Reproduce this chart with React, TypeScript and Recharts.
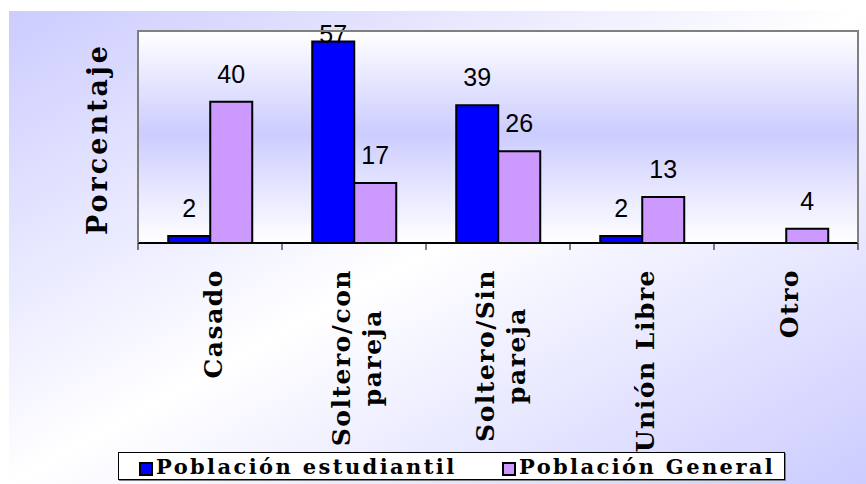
import React, { useLayoutEffect, useRef, useState } from 'react';
import { BarChart, Bar, XAxis, YAxis, CartesianGrid, Legend, LabelList } from 'recharts';

// data
const categories = ['Casado', 'Soltero/con\npareja', 'Soltero/Sin\npareja', 'Unión Libre', 'Otro'];
const estudiantil = [2, 57, 39, 2, 0];
const general = [40, 17, 26, 13, 4];
const seriesNames = ['Población estudiantil', 'Población General'];
const yDomain = [0, 60];
const yTitle = 'Porcentaje';

const data = categories.map((name, i) => ({
  name,
  estudiantil: estudiantil[i],
  general: general[i]
}));

// layout / styles
const CHART_W = 857;
const CHART_H = 473;
const MARGIN = { top: 20, right: 8, bottom: 0, left: 0 };
const Y_AXIS_W = 129;
const PLOT_H = 212;
const PLOT_W = CHART_W - MARGIN.left - MARGIN.right - Y_AXIS_W;
const BAND_HALF = PLOT_W / categories.length / 2;

const LABEL_FONT = '"DejaVu Serif", serif';
const VALUE_FONT = '"Liberation Sans", Arial, sans-serif';

const colors = {
  estudiantil: '#0000FF',
  general: '#CC99FF',
  border: '#808080',
  axis: '#000000'
};

// value label above each bar, kept inside the plot at the top
const ValueLabel = (props: any) => {
  const vb = props.viewBox ?? props;
  const { value } = props;
  if (!value) return null;
  const cx = vb.x + vb.width / 2;
  const baseline = Math.max(vb.y - 19, MARGIN.top + 12);
  return (
    <text x={cx} y={baseline} textAnchor="middle" fontFamily={VALUE_FONT} fontSize={25} fill="#000">
      {value}
    </text>
  );
};

// rotated, centred multi-line category label + boundary tick marks
const CategoryTick = (props: any) => {
  const { x, y, payload, index } = props;
  const lines = String(payload?.value ?? '').split('\n');
  const refs = useRef<(SVGTextElement | null)[]>([]);
  const [len, setLen] = useState(0);

  useLayoutEffect(() => {
    let m = 0;
    refs.current.forEach((el) => {
      if (el) m = Math.max(m, el.getComputedTextLength());
    });
    if (m !== len) setLen(m);
  });

  const cy = y + 26 + len / 2;
  const n = lines.length;

  return (
    <g>
      <line x1={x - BAND_HALF} x2={x - BAND_HALF} y1={y} y2={y + 7} stroke={colors.axis} />
      {index === categories.length - 1 && (
        <line x1={x + BAND_HALF} x2={x + BAND_HALF} y1={y} y2={y + 7} stroke={colors.axis} />
      )}
      {lines.map((line, i) => {
        const bx = x + 12 + (i - (n - 1) / 2) * 31;
        return (
          <text
            key={line}
            ref={(el) => {
              refs.current[i] = el;
            }}
            x={bx}
            y={cy}
            transform={`rotate(-90 ${bx} ${cy})`}
            textAnchor="middle"
            fontFamily={LABEL_FONT}
            fontWeight="bold"
            fontSize={25}
            letterSpacing={1.5}
            fill="#000"
          >
            {line}
          </text>
        );
      })}
    </g>
  );
};

const YTitle = (props: any) => {
  const { x, y, width, height } = props.viewBox;
  const bx = x + width - 31;
  const cy = y + height / 2 + 2;
  return (
    <text
      x={bx}
      y={cy}
      transform={`rotate(-90 ${bx} ${cy})`}
      textAnchor="middle"
      fontFamily={LABEL_FONT}
      fontWeight="bold"
      fontSize={27}
      letterSpacing={3}
      fill="#000"
    >
      {yTitle}
    </text>
  );
};

const LegendBox = ({ payload }: any) => {
  const items = seriesNames
    .map((n) => (payload ?? []).find((p: any) => p.value === n))
    .filter(Boolean);
  return (
    <div
      style={{
        width: 665,
        height: 26,
        border: '1px solid #000',
        boxShadow: '1px 1px 0 #808080',
        background: '#fff',
        display: 'flex',
        alignItems: 'center',
        fontFamily: LABEL_FONT,
        fontWeight: 'bold',
        fontSize: 21,
        letterSpacing: 2.4,
        color: '#000',
        whiteSpace: 'nowrap'
      }}
    >
      {items.map((p: any, i: number) => (
        <div
          key={p.value}
          style={{
            display: 'flex',
            alignItems: 'center',
            marginLeft: i === 0 ? 20 : 0,
            width: i === 0 ? 363 : undefined
          }}
        >
          <span
            style={{
              display: 'inline-block',
              width: 10,
              height: 10,
              border: '2px solid #000',
              background: p.color,
              marginRight: 3,
              position: 'relative',
              top: 3
            }}
          />
          <span>{p.value}</span>
        </div>
      ))}
    </div>
  );
};

export default function App() {
  return (
    <div
      style={{
        position: 'absolute',
        left: 9,
        top: 11,
        width: CHART_W,
        height: CHART_H,
        background: 'linear-gradient(to bottom right, #CCCCFF 0%, #FFFFFF 50%, #CCCCFF 100%)'
      }}
    >
      <BarChart
        width={CHART_W}
        height={CHART_H}
        data={data}
        margin={MARGIN}
        barCategoryGap="21%"
        barGap={0}
      >
        <defs>
          <linearGradient id="plotBg" x1="0" y1="0" x2="0" y2="1">
            <stop offset="0%" stopColor="#FFFFFF" />
            <stop offset="48%" stopColor="#CCCCFF" />
            <stop offset="100%" stopColor="#FFFFFF" />
          </linearGradient>
        </defs>

        <CartesianGrid vertical={false} horizontal={false} fill="url(#plotBg)" fillOpacity={1} />

        <XAxis
          dataKey="name"
          interval={0}
          height={CHART_H - MARGIN.top - PLOT_H}
          tickLine={false}
          tickSize={0}
          tickMargin={0}
          axisLine={{ stroke: colors.axis, strokeWidth: 2 }}
          tick={<CategoryTick />}
        />

        <YAxis
          domain={yDomain}
          ticks={yDomain}
          width={Y_AXIS_W}
          tick={false}
          tickLine={false}
          axisLine={{ stroke: colors.border, strokeWidth: 2 }}
          label={<YTitle />}
        />

        <Legend
          layout="vertical"
          align="center"
          verticalAlign="middle"
          wrapperStyle={{ left: 109, top: 441, width: 667 }}
          content={<LegendBox />}
        />

        <Bar
          dataKey="estudiantil"
          name={seriesNames[0]}
          fill={colors.estudiantil}
          stroke="#000"
          strokeWidth={2}
          isAnimationActive={false}
        >
          <LabelList dataKey="estudiantil" content={<ValueLabel />} />
        </Bar>

        <Bar
          dataKey="general"
          name={seriesNames[1]}
          fill={colors.general}
          stroke="#000"
          strokeWidth={2}
          isAnimationActive={false}
        >
          <LabelList dataKey="general" content={<ValueLabel />} />
        </Bar>
      </BarChart>

      {/* grey frame round the plot area */}
      <div
        style={{
          position: 'absolute',
          zIndex: 2,
          pointerEvents: 'none',
          left: MARGIN.left + Y_AXIS_W - 1,
          top: MARGIN.top - 1,
          width: PLOT_W + 2,
          height: PLOT_H + 1,
          boxSizing: 'border-box',
          border: `2px solid ${colors.border}`,
          borderBottom: 'none'
        }}
      />
    </div>
  );
}
